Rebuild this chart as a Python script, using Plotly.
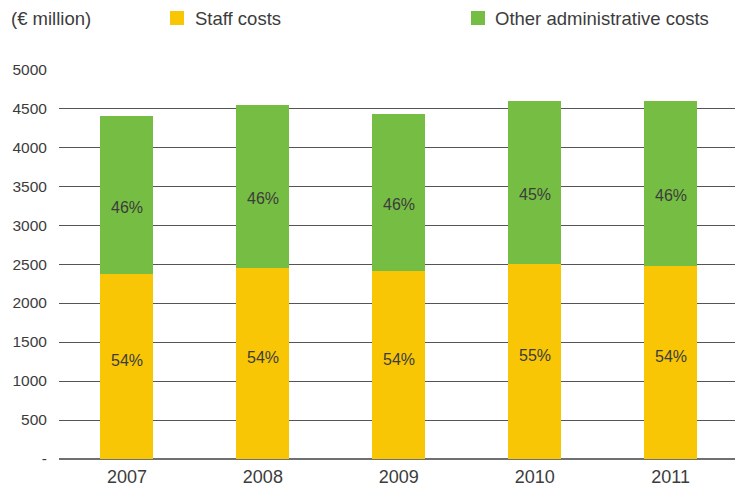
import plotly.graph_objects as go

# Administrative costs by year (€ million)
years = ["2007", "2008", "2009", "2010", "2011"]
staff_costs = [2374, 2447, 2405, 2505, 2472]
other_admin_costs = [2020, 2088, 2015, 2081, 2114]

y_tick_values = [0, 500, 1000, 1500, 2000, 2500, 3000, 3500, 4000, 4500, 5000]
y_tick_labels = ["-", "500", "1000", "1500", "2000", "2500", "3000", "3500", "4000", "4500", "5000"]

STAFF_COLOR = "#F8C605"
OTHER_COLOR = "#76BE43"
TEXT_COLOR = "#3C3C3C"
FONT = "Liberation Sans"

W, H = 735, 488
ML, MR, MT, MB = 59, 0, 69, 29

x_pos = list(range(len(years)))

fig = go.Figure()
fig.add_trace(go.Bar(x=x_pos, y=staff_costs, name="Staff costs",
                     marker=dict(color=STAFF_COLOR, line=dict(width=0)),
                     width=0.39, customdata=years,
                     hovertemplate="%{customdata}: %{y}<extra>Staff costs</extra>"))
fig.add_trace(go.Bar(x=x_pos, y=other_admin_costs, name="Other administrative costs",
                     marker=dict(color=OTHER_COLOR, line=dict(width=0)),
                     width=0.39, customdata=years,
                     hovertemplate="%{customdata}: %{y}<extra>Other administrative costs</extra>"))

annotations = []
# percentage share labels inside each segment
label_font = dict(size=16, color=TEXT_COLOR, family=FONT)
for i, s, o in zip(x_pos, staff_costs, other_admin_costs):
    total = s + o
    ps = round(100 * s / total)
    po = round(100 * o / total)
    annotations.append(dict(x=i, y=s / 2, xref="x", yref="y", text=f"{ps}%",
                            showarrow=False, yshift=6, font=label_font))
    annotations.append(dict(x=i, y=s + o / 2, xref="x", yref="y", text=f"{po}%",
                            showarrow=False, yshift=-12, font=label_font))

plot_w = W - ML - MR
plot_h = H - MT - MB


def px_x(px):
    return (px - ML) / plot_w


def px_y(py):
    return (H - MB - py) / plot_h


# header: unit label and legend
header_font = dict(size=18.5, color=TEXT_COLOR, family=FONT)
annotations.append(dict(xref="paper", yref="paper", x=px_x(9), y=px_y(18),
                        xanchor="left", yanchor="middle", text="(€ million)",
                        showarrow=False, font=header_font))
annotations.append(dict(xref="paper", yref="paper", x=px_x(193), y=px_y(18),
                        xanchor="left", yanchor="middle", text="Staff costs",
                        showarrow=False, font=header_font))
annotations.append(dict(xref="paper", yref="paper", x=px_x(493), y=px_y(18),
                        xanchor="left", yanchor="middle", text="Other administrative costs",
                        showarrow=False, font=header_font))

shapes = [
    dict(type="rect", xref="paper", yref="paper",
         x0=px_x(170), x1=px_x(184), y0=px_y(25), y1=px_y(11),
         fillcolor=STAFF_COLOR, line=dict(width=0)),
    dict(type="rect", xref="paper", yref="paper",
         x0=px_x(471), x1=px_x(485), y0=px_y(25), y1=px_y(11),
         fillcolor=OTHER_COLOR, line=dict(width=0)),
]

fig.update_layout(
    barmode="stack",
    width=W, height=H,
    margin=dict(l=ML, r=MR, t=MT, b=MB, pad=0),
    paper_bgcolor="white", plot_bgcolor="white",
    showlegend=False,
    annotations=annotations,
    shapes=shapes,
    font=dict(family=FONT, color=TEXT_COLOR),
)
fig.update_xaxes(range=[-0.5, 4.474], tickvals=x_pos, ticktext=years,
                 showgrid=False, showline=False, zeroline=False,
                 ticks="outside", ticklen=1, tickcolor="rgba(0,0,0,0)",
                 tickfont=dict(size=18, color=TEXT_COLOR, family=FONT))
fig.update_yaxes(range=[0, 5002], tickvals=y_tick_values, ticktext=y_tick_labels,
                 showgrid=True, gridcolor="#555555", gridwidth=1,
                 zeroline=True, zerolinecolor="#707070", zerolinewidth=2,
                 showline=False, ticks="outside", ticklen=8,
                 tickcolor="rgba(0,0,0,0)",
                 tickfont=dict(size=15.5, color=TEXT_COLOR, family=FONT))

fig.write_html("out.html")
